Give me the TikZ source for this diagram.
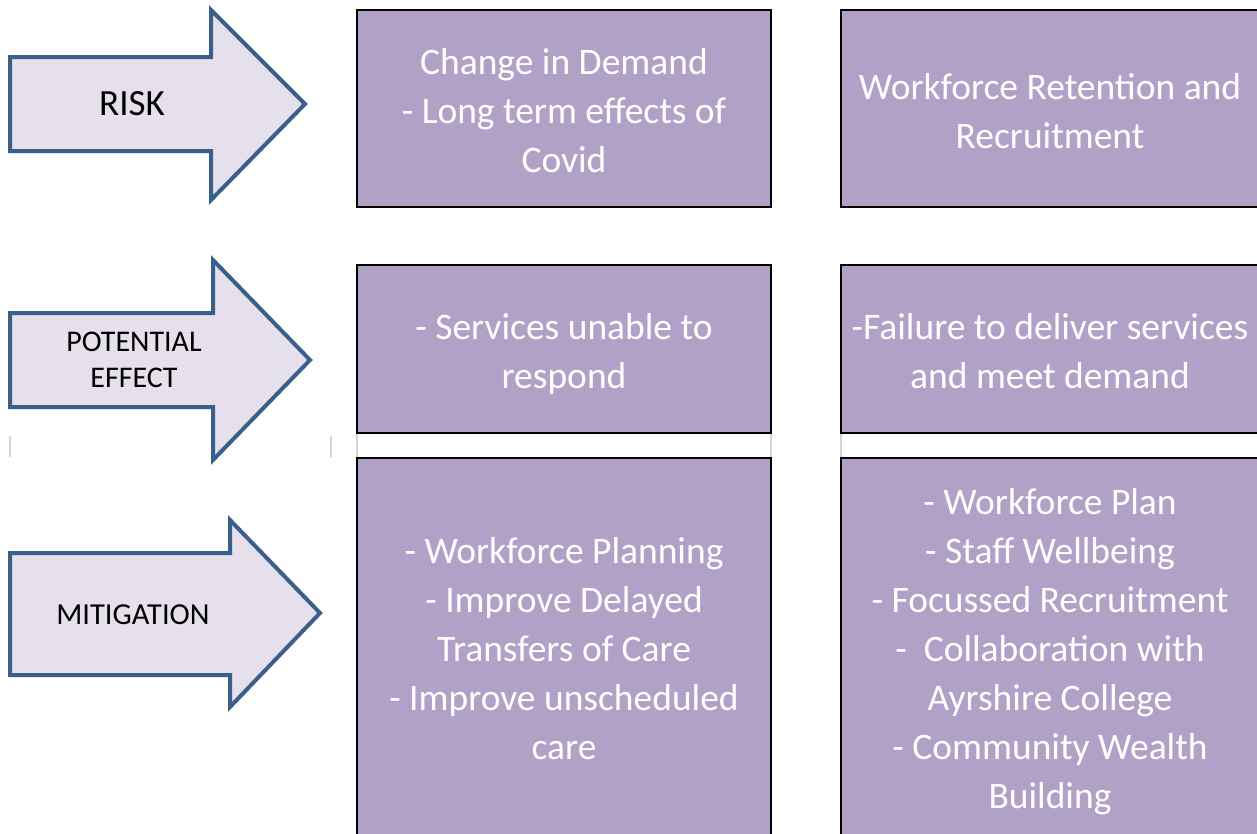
\documentclass[tikz,border=0pt]{standalone}
\usepackage{fontspec}
\setmainfont{Carlito}
\definecolor{boxfill}{HTML}{B2A1C7}
\definecolor{arrowfill}{HTML}{E5E0EC}
\definecolor{arrowline}{HTML}{3A5F8B}
\definecolor{gridgray}{HTML}{D4D4D4}
\newcommand{\celline}[1]{\strut #1}
\tikzset{
  cellbox/.style={draw=black, line width=2pt, fill=boxfill, inner sep=0pt},
  celltext/.style={text=white, align=center, inner sep=0pt, font=\fontsize{37.5}{49}\selectfont},
  arrowshape/.style={draw=arrowline, fill=arrowfill, line width=4pt, line join=miter},
  arrowlabel/.style={text=black, align=center, inner sep=0pt},
  gridline/.style={draw=gridgray, line width=1.5pt}
}
\begin{document}
\begin{tikzpicture}[x=1pt,y=-1pt]
\useasboundingbox (0,0) rectangle (1257,833);
\begin{scope}
\clip (0,0) rectangle (1257,833);
% grid ticks between rows
\draw[gridline] (357,433) -- (357,458);
\draw[gridline] (771,433) -- (771,458);
\draw[gridline] (841,433) -- (841,458);
\draw[gridline] (10,436) -- (10,457);
\draw[gridline] (331,436) -- (331,457);
% boxes
\node[cellbox, minimum width=414pt, minimum height=197pt] (r1a) at (564,108.5) {};
\node[cellbox, minimum width=418pt, minimum height=197pt] (r1b) at (1050,108.5) {};
\node[cellbox, minimum width=414pt, minimum height=168pt] (r2a) at (564,349) {};
\node[cellbox, minimum width=418pt, minimum height=168pt] (r2b) at (1050,349) {};
\node[cellbox, minimum width=414pt, minimum height=382pt] (r3a) at (564,649) {};
\node[cellbox, minimum width=418pt, minimum height=382pt] (r3b) at (1050,649) {};
% texts
\node[celltext] (t1a) at (564,114) {\celline{Change in Demand}\\\celline{- Long term effects of}\\\celline{Covid}};
\node[celltext] (t1b) at (1050,114.5) {\celline{Workforce Retention and}\\\celline{Recruitment}};
\node[celltext] (t2a) at (564,354.5) {\celline{- Services unable to}\\\celline{respond}};
\node[celltext] (t2b) at (1050,354.5) {\celline{-Failure to deliver services}\\\celline{and meet demand}};
\node[celltext] (t3a) at (564,652) {\celline{- Workforce Planning}\\\celline{- Improve Delayed}\\\celline{Transfers of Care}\\\celline{- Improve unscheduled}\\\celline{care}};
\node[celltext] (t3b) at (1050,651.5) {\celline{- Workforce Plan}\\\celline{- Staff Wellbeing}\\\celline{- Focussed Recruitment}\\\celline{-\ \ Collaboration with}\\\celline{Ayrshire College}\\\celline{- Community Wealth}\\\celline{Building}};
\end{scope}
% arrows
\draw[arrowshape] (10,57) -- (211,57) -- (211,10) -- (305,104) -- (211,200) -- (211,151) -- (10,151) -- cycle;
\node[arrowlabel, font=\fontsize{37}{44}\selectfont] (risk) at (132,104) {RISK};
\draw[arrowshape] (10,313) -- (213,313) -- (213,260) -- (310,360) -- (213,460) -- (213,407) -- (10,407) -- cycle;
\node[arrowlabel, font=\fontsize{30}{36}\selectfont] (effect) at (134,360) {POTENTIAL\\EFFECT};
\draw[arrowshape] (10,553) -- (230,553) -- (230,520) -- (320,613) -- (230,707) -- (230,675) -- (10,675) -- cycle;
\node[arrowlabel, font=\fontsize{30.5}{36}\selectfont] (mitig) at (133,615) {MITIGATION};
\end{tikzpicture}
\end{document}
